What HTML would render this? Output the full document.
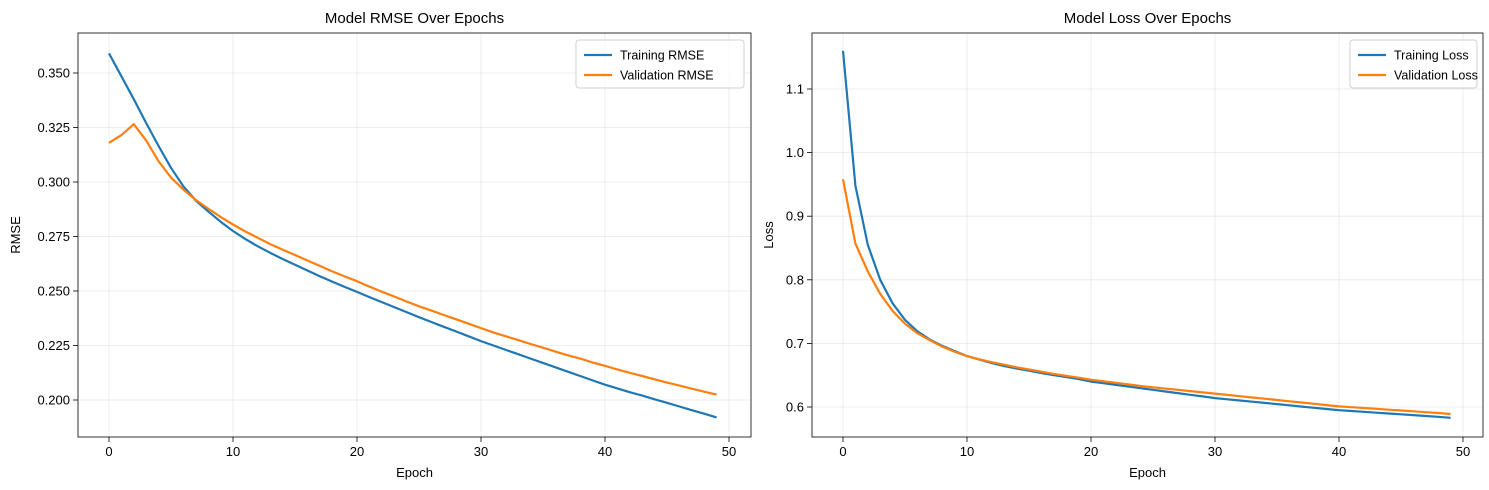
<!DOCTYPE html>
<html><head><meta charset="utf-8"><style>
body{margin:0;background:#fff;}
svg{display:block;font-family:"Liberation Sans",sans-serif;}
</style></head><body>
<svg id="fig" width="1489" height="490"></svg>
<script>
const epochs = Array.from({length:50},(_,i)=>i);
const trainRMSE = [.359,.3485,.338,.327,.3165,.3065,.298,.2915,.2865,.2818,.2775,.2738,.2705,.2675,.2647,.262,.2594,.2568,.2543,.2519,.2496,.2472,.2449,.2426,.2403,.2380,.2358,.2336,.2314,.2292,.2270,.2250,.2230,.2210,.2190,.2170,.2150,.2130,.2110,.2090,.2070,.2053,.2036,.2020,.2003,.1987,.1970,.1953,.1937,.1920];
const valRMSE = [.318,.3215,.3265,.319,.3095,.302,.2965,.2918,.2878,.284,.2805,.2773,.2744,.2715,.269,.2665,.264,.2615,.259,.2567,.2545,.252,.2497,.2475,.2452,.243,.241,.239,.237,.235,.233,.231,.2292,.2275,.2257,.224,.2222,.2205,.219,.2172,.2157,.214,.2125,.211,.2095,.208,.2066,.2052,.2038,.2025];
const trainLoss = [1.16,.948,.855,.800,.763,.737,.719,.706,.696,.688,.680,.6745,.669,.6645,.6605,.657,.6535,.650,.647,.644,.640,.6374,.6348,.6322,.6296,.627,.6244,.6218,.6192,.6166,.614,.6121,.6102,.6083,.6064,.6045,.6026,.6007,.5988,.5969,.595,.5937,.5924,.5911,.5898,.5885,.5872,.5859,.5846,.583];
const valLoss = [.958,.857,.813,.778,.751,.731,.716,.705,.695,.687,.680,.675,.6705,.6665,.6625,.659,.6555,.652,.649,.646,.643,.6405,.638,.6355,.633,.631,.629,.627,.625,.623,.621,.619,.617,.615,.613,.611,.609,.607,.605,.603,.601,.5997,.5984,.5971,.5958,.5945,.5932,.5919,.5906,.589];
const xTicks = [0,10,20,30,40,50];
const rmseTicks = [0.200,0.225,0.250,0.275,0.300,0.325,0.350];
const lossTicks = [0.6,0.7,0.8,0.9,1.0,1.1];

const NS="http://www.w3.org/2000/svg";
const svg=document.getElementById('fig');
function mk(tag,attrs,parent){const e=document.createElementNS(NS,tag);for(const k in attrs)e.setAttribute(k,attrs[k]);(parent||svg).appendChild(e);return e;}

function panel(cfg){
  const g=mk('g',{});
  
  
  const {L,R,T,B}=cfg;
  const xs=v=>cfg.x0px+(v-0)*(cfg.x50px-cfg.x0px)/50;
  const ys=v=>cfg.yAt(v);
  xTicks.forEach(t=>{const x=xs(t);
    mk('line',{x1:x,x2:x,y1:T,y2:B,stroke:'#b0b0b0','stroke-opacity':0.3,'stroke-width':0.8},g);
    mk('line',{x1:x,x2:x,y1:B,y2:B+5,stroke:'#000','stroke-width':0.8},g);
    const tx=mk('text',{x:x,y:B+19,'font-size':13,'text-anchor':'middle'},g);tx.textContent=t;
    
    
  });
  cfg.yTicks.forEach(t=>{const y=ys(t);
    mk('line',{x1:L,x2:R,y1:y,y2:y,stroke:'#b0b0b0','stroke-opacity':0.3,'stroke-width':0.8},g);
    mk('line',{x1:L-5,x2:L,y1:y,y2:y,stroke:'#000','stroke-width':0.8},g);
    const tx=mk('text',{x:L-8,y:y+4.5,'font-size':13,'text-anchor':'end'},g);tx.textContent=cfg.fmt(t);
    
    
  });
  const series=[[cfg.s1,'#1f77b4',cfg.n1],[cfg.s2,'#ff7f0e',cfg.n2]];
  series.forEach(([d,c,n])=>{
    const p=mk('polyline',{points:d.map((v,i)=>xs(epochs[i]).toFixed(1)+','+ys(v).toFixed(1)).join(' '),fill:'none',stroke:c,'stroke-width':2.2,'stroke-linejoin':'round'},g);
    
    
  });
  mk('rect',{x:L,y:T,width:R-L,height:B-T,fill:'none',stroke:'#000','stroke-width':0.8},g);
  const ti=mk('text',{x:(L+R)/2,y:T-10,'font-size':15,'text-anchor':'middle'},g);ti.textContent=cfg.title;
  
  const xl=mk('text',{x:(L+R)/2,y:B+40,'font-size':13,'text-anchor':'middle'},g);xl.textContent='Epoch';
  
  const yl=mk('text',{x:0,y:0,'font-size':13,'text-anchor':'middle',transform:`translate(${cfg.ylx},${(T+B)/2}) rotate(-90)`},g);yl.textContent=cfg.ylabel;
  
  const lg=mk('g',{},g);
  
  mk('rect',{x:cfg.lx,y:T+7,width:cfg.lw,height:48,rx:3,fill:'#fff','fill-opacity':0.8,stroke:'#d0d0d0'},lg);
  series.forEach(([d,c,n],i)=>{const y=T+22+i*20;
    mk('line',{x1:cfg.lx+8,x2:cfg.lx+36,y1:y,y2:y,stroke:c,'stroke-width':2.2},lg);
    const t=mk('text',{x:cfg.lx+44,y:y+4.5,'font-size':12.5},lg);t.textContent=n;
    
  });
}
panel({name:'rmse-chart',L:78,R:751,T:33,B:437,x0px:109,x50px:729,
  yAt:v=>400-(v-0.2)/0.025*54.5,yTicks:rmseTicks,fmt:t=>t.toFixed(3),
  s1:trainRMSE,s2:valRMSE,n1:'Training RMSE',n2:'Validation RMSE',title:'Model RMSE Over Epochs',ylabel:'RMSE',ylx:20,lx:576,lw:168});
panel({name:'loss-chart',L:812,R:1483,T:33,B:437,x0px:843,x50px:1463,
  yAt:v=>407-(v-0.6)/0.1*63.6,yTicks:lossTicks,fmt:t=>t.toFixed(1),
  s1:trainLoss,s2:valLoss,n1:'Training Loss',n2:'Validation Loss',title:'Model Loss Over Epochs',ylabel:'Loss',ylx:773,lx:1350,lw:127});
</script>
</body></html>
